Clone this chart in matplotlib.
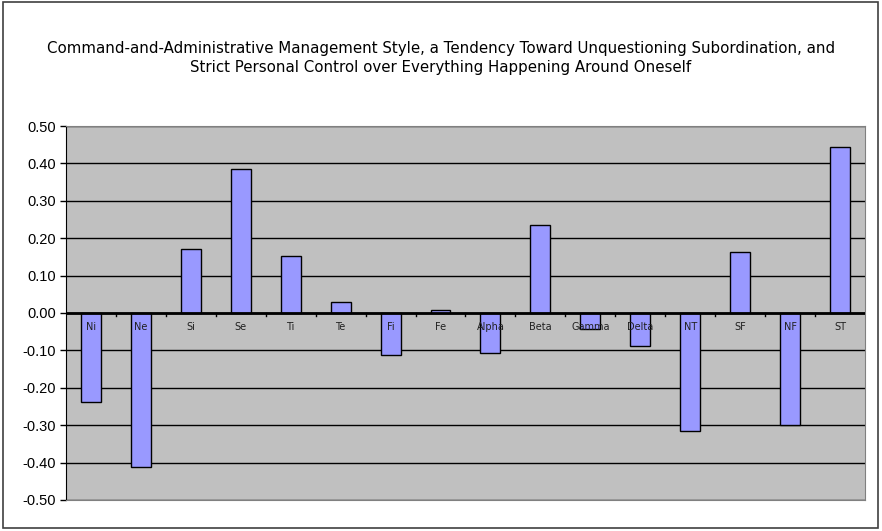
import matplotlib.pyplot as plt
from matplotlib.patches import Rectangle

# data
categories = ["Ni", "Ne", "Si", "Se", "Ti", "Te", "Fi", "Fe",
              "Alpha", "Beta", "Gamma", "Delta", "NT", "SF", "NF", "ST"]
values = [-0.237, -0.411, 0.171, 0.386, 0.152, 0.029, -0.111, 0.007,
          -0.108, 0.234, -0.044, -0.087, -0.315, 0.164, -0.299, 0.445]
y_ticks = [0.5, 0.4, 0.3, 0.2, 0.1, 0.0, -0.1, -0.2, -0.3, -0.4, -0.5]

title = ("Command-and-Administrative Management Style, a Tendency Toward Unquestioning Subordination, and\n"
         "Strict Personal Control over Everything Happening Around Oneself")

fig = plt.figure(figsize=(8.82, 5.31), dpi=100)
fig.patches.append(Rectangle((0.003, 0.005), 0.992, 0.992, transform=fig.transFigure,
                             fill=False, edgecolor="#404040", linewidth=1.2))

ax = fig.add_axes([0.0748, 0.0584, 0.9059, 0.7043])
ax.set_facecolor("#C0C0C0")

x = list(range(len(categories)))
ax.bar(x, values, width=0.4, color="#9999FF", edgecolor="black", linewidth=1, zorder=3)

ax.set_xlim(-0.5, len(categories) - 0.5)
ax.set_ylim(-0.5, 0.5)
ax.set_yticks(y_ticks)
ax.set_yticklabels([f"{v:.2f}" for v in y_ticks], family="Liberation Sans", fontsize=10.5)
ax.yaxis.grid(True, color="black", linewidth=1, zorder=1)
ax.set_axisbelow(True)
ax.tick_params(axis="y", length=4, width=1, pad=3)
ax.set_xticks([])

for side in ["top", "right", "bottom"]:
    ax.spines[side].set_color("#808080")
ax.spines["left"].set_color("black")

# zero line with category ticks hanging below
ax.axhline(0, color="black", linewidth=2, zorder=4)
for b in range(1, len(categories)):
    ax.plot([b - 0.5, b - 0.5], [0, -0.008], color="black", linewidth=1, zorder=4)

# label band sticking out of the right edge, as in the original
ax.add_patch(Rectangle((len(categories) - 0.5, -0.078), 0.03, 0.078, facecolor="#C0C0C0",
                       edgecolor="none", clip_on=False, zorder=2))

for xi, name in zip(x, categories):
    ax.text(xi, -0.037, name, ha="center", va="center", fontsize=7, color="#202020", zorder=5)

fig.text(0.5, 0.891, title, ha="center", va="center", fontsize=10.8, linespacing=1.3)

fig.savefig("out.png", dpi=100)
